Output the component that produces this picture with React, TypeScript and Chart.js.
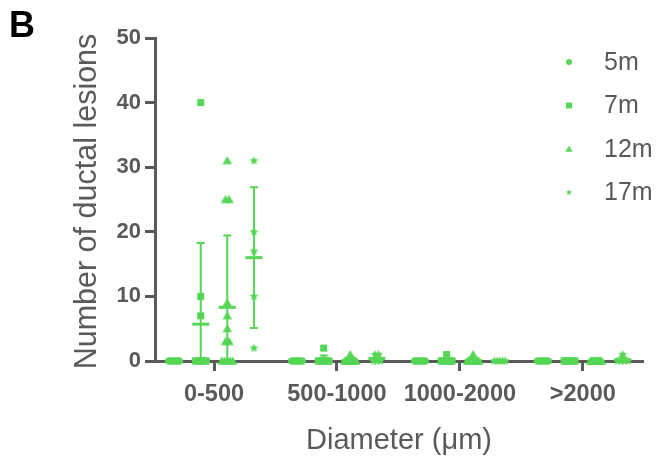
import React, { useEffect, useRef } from 'react';
import { Chart, registerables } from 'chart.js';

Chart.register(...registerables);

// ---- data ----
const categories = ['0-500', '500-1000', '1000-2000', '>2000'];
const seriesLabels = ['5m', '7m', '12m', '17m'];
const yTickValues = [0, 10, 20, 30, 40, 50];

// values per diameter group (individual animals)
const values5m = [
  [0, 0, 0, 0, 0, 0, 0, 0],
  [0, 0, 0, 0, 0, 0, 0, 0],
  [0, 0, 0, 0, 0, 0, 0, 0],
  [0, 0, 0, 0, 0, 0, 0, 0],
];
const values7m = [
  [40, 10, 7, 0, 0, 0, 0, 0, 0, 0],
  [2, 0, 0, 0, 0, 0, 0, 0, 0, 0],
  [1, 0, 0, 0, 0, 0, 0, 0, 0, 0],
  [0, 0, 0, 0, 0, 0, 0, 0, 0, 0],
];
const values12m = [
  [31, 25, 25, 9, 7, 5, 3, 3, 0, 0, 0, 0, 0],
  [1, 0, 0, 0, 0, 0, 0, 0, 0, 0, 0, 0, 0],
  [1, 0, 0, 0, 0, 0, 0, 0, 0, 0, 0, 0, 0],
  [0, 0, 0, 0, 0, 0, 0, 0, 0, 0, 0, 0, 0],
];
const values17m = [
  [31, 20, 17, 10, 2],
  [1, 1, 0, 0, 0],
  [0, 0, 0, 0, 0],
  [1, 0, 0, 0, 0],
];
const allSeries = [values5m, values7m, values12m, values17m];

// ---- styling ----
const GREEN = '#55d655';
const GRAY = '#5a5a5a';
const FONT = "'Liberation Sans', Arial, Helvetica, sans-serif";
const shapes = ['circle', 'square', 'triangle', 'star'];
const markerSizes = [7, 7, 8, 9];
const legendSizes = [6, 6, 6, 6];
const seriesOffsets = [-0.325, -0.108, 0.108, 0.325];
const X_MIN = -0.48;
const X_MAX = 3.49;
const PLOT_W = 488;

function drawShape(ctx: CanvasRenderingContext2D, shape: string, x: number, y: number, s: number) {
  ctx.beginPath();
  if (shape === 'circle') {
    ctx.arc(x, y, s / 2, 0, Math.PI * 2);
  } else if (shape === 'square') {
    ctx.rect(x - s / 2, y - s / 2, s, s);
  } else if (shape === 'triangle') {
    ctx.moveTo(x, y - s * 0.55);
    ctx.lineTo(x + s * 0.6, y + s * 0.45);
    ctx.lineTo(x - s * 0.6, y + s * 0.45);
    ctx.closePath();
  } else {
    const R = s / 2;
    const r = R * 0.5;
    for (let i = 0; i < 10; i++) {
      const a = -Math.PI / 2 + (i * Math.PI) / 5;
      const rr = i % 2 === 0 ? R : r;
      const px = x + rr * Math.cos(a);
      const py = y + rr * Math.sin(a);
      if (i === 0) ctx.moveTo(px, py);
      else ctx.lineTo(px, py);
    }
    ctx.closePath();
  }
  ctx.fill();
}

function makeMarker(shape: string, size: number) {
  const c = document.createElement('canvas');
  const d = Math.ceil(size) + 4;
  c.width = d;
  c.height = d;
  const ctx = c.getContext('2d')!;
  ctx.fillStyle = GREEN;
  drawShape(ctx, shape, d / 2, d / 2, size);
  return c;
}

function mean(a: number[]) {
  return a.reduce((p, v) => p + v, 0) / a.length;
}
function sd(a: number[]) {
  const m = mean(a);
  return Math.sqrt(a.reduce((p, v) => p + (v - m) * (v - m), 0) / (a.length - 1));
}

// spread equal values horizontally (scatter-dot layout)
function buildPoints(series: number[][], s: number) {
  const pxUnit = (X_MAX - X_MIN) / PLOT_W;
  const pts: { x: number; y: number }[] = [];
  series.forEach((vals, g) => {
    const counts = new Map<number, number>();
    vals.forEach((v) => counts.set(v, (counts.get(v) || 0) + 1));
    const seen = new Map<number, number>();
    vals.forEach((v) => {
      const k = counts.get(v)!;
      const j = seen.get(v) || 0;
      seen.set(v, j + 1);
      const step = k > 1 ? Math.min(3.5, 11 / (k - 1)) : 0;
      const off = (j - (k - 1) / 2) * step * pxUnit;
      pts.push({ x: g + seriesOffsets[s] + off, y: v });
    });
  });
  return pts;
}

const errorBarPlugin = {
  id: 'errorBars',
  afterDatasetsDraw(chart: any) {
    const { ctx, scales } = chart;
    const xs = scales.x;
    const ys = scales.y;
    ctx.save();
    ctx.strokeStyle = GREEN;
    allSeries.forEach((series, s) => {
      series.forEach((vals, g) => {
        const m = mean(vals);
        const d = sd(vals);
        const px = xs.getPixelForValue(g + seriesOffsets[s]);
        const yM = ys.getPixelForValue(m);
        const yHi = ys.getPixelForValue(m + d);
        const lo = m - d;
        const yLo = ys.getPixelForValue(Math.max(0, lo));
        ctx.lineWidth = 2;
        ctx.beginPath();
        ctx.moveTo(px, yHi);
        ctx.lineTo(px, yLo);
        ctx.moveTo(px - 4, yHi);
        ctx.lineTo(px + 4, yHi);
        if (lo > 0) {
          ctx.moveTo(px - 4, yLo);
          ctx.lineTo(px + 4, yLo);
        }
        ctx.stroke();
        ctx.lineWidth = 3;
        ctx.beginPath();
        ctx.moveTo(px - 8.5, yM);
        ctx.lineTo(px + 8.5, yM);
        ctx.stroke();
      });
    });
    ctx.restore();
  },
};

const annotationsPlugin = {
  id: 'annotations',
  afterDraw(chart: any) {
    const { ctx, chartArea } = chart;
    ctx.save();
    // legend
    ctx.fillStyle = GRAY;
    ctx.font = `25px ${FONT}`;
    ctx.textAlign = 'left';
    ctx.textBaseline = 'middle';
    seriesLabels.forEach((lab, i) => {
      const y = 62 + i * 43.5;
      ctx.fillStyle = GREEN;
      drawShape(ctx, shapes[i], 569, y, legendSizes[i]);
      ctx.fillStyle = GRAY;
      ctx.fillText(lab, 604, y + 1);
    });
    // axis titles
    ctx.font = `29px ${FONT}`;
    ctx.fillStyle = GRAY;
    ctx.textAlign = 'center';
    ctx.textBaseline = 'alphabetic';
    ctx.fillText('Diameter (\u03bcm)', (chartArea.left + chartArea.right) / 2, 449);
    ctx.save();
    ctx.font = `30.5px ${FONT}`;
    ctx.translate(88, (chartArea.top + chartArea.bottom) / 2 + 2);
    ctx.rotate(-Math.PI / 2);
    ctx.textBaseline = 'middle';
    ctx.fillText('Number of ductal lesions', 0, 0);
    ctx.restore();
    // panel letter
    ctx.font = `bold 36px ${FONT}`;
    ctx.fillStyle = '#000';
    ctx.textAlign = 'left';
    ctx.textBaseline = 'alphabetic';
    ctx.fillText('B', 9, 37);
    ctx.restore();
  },
};

export default function App() {
  const ref = useRef<HTMLCanvasElement>(null);
  useEffect(() => {
    document.body.style.margin = '0';
    const canvas = ref.current!;
    const datasets = allSeries.map((series, s) => ({
      label: seriesLabels[s],
      data: buildPoints(series, s),
      pointStyle: makeMarker(shapes[s], markerSizes[s]) as any,
      pointRadius: markerSizes[s] / 2,
      backgroundColor: GREEN,
      borderColor: GREEN,
      showLine: false,
      clip: false as any,
    }));
    const yTickFont = { family: FONT, size: 22, weight: 'bold' as const };
    const xTickFont = { family: FONT, size: 23.5, weight: 'bold' as const };
    const chart = new Chart(canvas, {
      type: 'scatter',
      data: { datasets },
      options: {
        animation: false,
        responsive: false,
        devicePixelRatio: 1,
        events: [],
        layout: { padding: { top: 38, right: 15, left: 0, bottom: 0 } },
        plugins: { legend: { display: false }, tooltip: { enabled: false } },
        scales: {
          x: {
            type: 'linear',
            min: X_MIN,
            max: X_MAX,
            afterBuildTicks: (s: any) => {
              s.ticks = categories.map((_, i) => ({ value: i }));
            },
            afterFit: (s: any) => {
              s.height = 101;
            },
            ticks: {
              autoSkip: false,
              maxRotation: 0,
              padding: 9,
              color: GRAY,
              font: xTickFont,
              callback: (v: any) => categories[Math.round(Number(v))] ?? '',
            },
            grid: {
              drawOnChartArea: false,
              drawTicks: true,
              tickLength: 10,
              tickWidth: 3,
              tickColor: GRAY,
              color: GRAY,
            },
            border: { display: true, color: GRAY, width: 3 },
          },
          y: {
            type: 'linear',
            min: 0,
            max: 50,
            afterBuildTicks: (s: any) => {
              s.ticks = yTickValues.map((v) => ({ value: v }));
            },
            afterFit: (s: any) => {
              s.width = 155;
            },
            ticks: {
              padding: 4,
              color: GRAY,
              font: yTickFont,
            },
            grid: {
              drawOnChartArea: false,
              drawTicks: true,
              tickLength: 10,
              tickWidth: 3,
              tickColor: GRAY,
              color: GRAY,
            },
            border: { display: true, color: GRAY, width: 3 },
          },
        },
      },
      plugins: [errorBarPlugin, annotationsPlugin],
    });
    return () => chart.destroy();
  }, []);
  return (
    <div style={{ width: 658, height: 462 }}>
      <canvas ref={ref} width={658} height={462} />
    </div>
  );
}
